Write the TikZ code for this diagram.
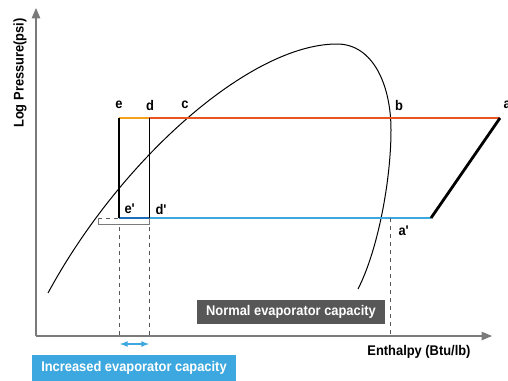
\documentclass[tikz,border=0pt]{standalone}
\usepackage{fontspec}
\newfontfamily\labfont{Liberation Sans Bold}[FakeStretch=0.92]
\usepackage{tikz}
\usetikzlibrary{arrows}

\definecolor{orangeA}{HTML}{F5A01E}
\definecolor{orangeB}{HTML}{E8561D}
\definecolor{blueA}{HTML}{1F6DB8}
\definecolor{blueB}{HTML}{3DA8DF}
\definecolor{boxgray}{HTML}{575757}
\definecolor{axisgray}{HTML}{7A7A7A}

\tikzset{
  pt/.style={font=\labfont\fontsize{14}{15}\selectfont, inner sep=0pt},
  capbox/.style={font=\labfont\fontsize{14}{16}\selectfont, text=white, inner sep=0pt},
  drop/.style={dashed, dash pattern=on 4pt off 4pt, color=boxgray, line width=0.9pt},
}

\begin{document}
\begin{tikzpicture}[x=1pt,y=-1pt,line width=1pt]
 \useasboundingbox (0,0) rectangle (508,380);

 % axes
 \coordinate (o) at (36,336);
 \coordinate (ytop) at (36,8);
 \coordinate (xend) at (492,336);
 \draw[axisgray, line width=1.4pt, -triangle 45] (o) -- (ytop);
 \draw[axisgray, line width=1.4pt, -triangle 45] (o) -- (xend);

 % saturation dome
 \draw[line width=1pt]
   (48,293) .. controls (120,160) and (250,44) .. (337,44)
   .. controls (373,44) and (391,85) .. (391,130)
   .. controls (391,180) and (378,250) .. (358,289);

 % cycle points
 \coordinate (e) at (119,118);
 \coordinate (d) at (149,118);
 \coordinate (a) at (500,118);
 \coordinate (ep) at (119,218);
 \coordinate (dp) at (149,218);
 \coordinate (ae) at (431,218);
 \coordinate (apx) at (390,218);
 \coordinate (sub) at (98,218);

 \draw[orangeB, line width=2.6pt] (d) -- (a);
 \draw[orangeA, line width=2.6pt] (e) -- (d);
 \draw[blueB, line width=2.6pt] (dp) -- (ae);
 \draw[blueA, line width=2.6pt] (ep) -- (dp);
 \draw[line width=2.8pt] (a) -- (ae);
 \draw[line width=2.6pt] (e) -- (ep);
 \draw[line width=0.9pt] (d) -- (dp);

 % subcooling bracket
 \draw[drop] (sub) -- (ep);
 \draw[axisgray, line width=0.9pt] (sub) -- (98,224) -- (149,224) -- (dp);

 % drop lines to the axis
 \draw[drop] (119,227) -- (119,336);
 \draw[drop] (149,227) -- (149,336);
 \draw[drop] (apx) -- (390,336);

 \draw[blueB, line width=1.6pt, latex-latex] (120,344) -- (149,344);

 % labels
 \node[pt] (le) at (119,105) {e};
 \node[pt] (ld) at (150,105) {d};
 \node[pt] (lc) at (185,105) {c};
 \node[pt] (lb) at (399,105) {b};
 \node[pt, anchor=west] (la) at (503,105) {a};
 \node[pt, anchor=west] (lep) at (124,209) {e'};
 \node[pt, anchor=west] (ldp) at (155,209) {d'};
 \node[pt, anchor=west] (lap) at (398,231) {a'};

 \node[pt, rotate=90] (ylab) at (20,73) {Log Pressure(psi)};
 \node[pt] (xlab) at (419,352) {Enthalpy (Btu/lb)};

 \fill[boxgray] (197,300) rectangle (385,324);
 \node[capbox] (normal) at (291,312) {Normal evaporator capacity};
 \fill[blueB] (32,355) rectangle (236,381);
 \node[capbox] (incr) at (134,368) {Increased evaporator capacity};
\end{tikzpicture}
\end{document}
